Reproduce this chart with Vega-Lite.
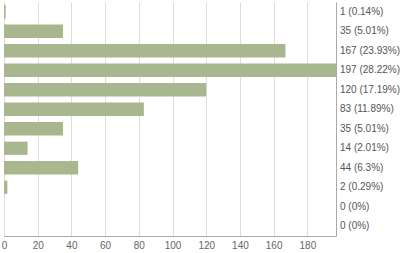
{
  "$schema": "https://vega.github.io/schema/vega-lite/v6.json",
  "autosize": "none",
  "width": 332,
  "height": 234,
  "padding": {"left": 4, "top": 2, "right": 64, "bottom": 17},
  "background": "white",
  "config": {"view": {"stroke": null}, "font": "Liberation Sans",
    "axisX": {"labelOverlap": false, "labelFlush": false, "ticks": false, "labelPadding": 4, "labelFontSize": 10, "labelColor": "#666666", "domainColor": "#aaaaaa", "gridColor": "#dddddd", "title": null}},
  "data": {"values": [
    {"row": 1, "count": 1, "label": "1 (0.14%)"},
    {"row": 2, "count": 35, "label": "35 (5.01%)"},
    {"row": 3, "count": 167, "label": "167 (23.93%)"},
    {"row": 4, "count": 197, "label": "197 (28.22%)"},
    {"row": 5, "count": 120, "label": "120 (17.19%)"},
    {"row": 6, "count": 83, "label": "83 (11.89%)"},
    {"row": 7, "count": 35, "label": "35 (5.01%)"},
    {"row": 8, "count": 14, "label": "14 (2.01%)"},
    {"row": 9, "count": 44, "label": "44 (6.3%)"},
    {"row": 10, "count": 2, "label": "2 (0.29%)"},
    {"row": 11, "count": 0, "label": "0 (0%)"},
    {"row": 12, "count": 0, "label": "0 (0%)"}
  ]},
  "encoding": {
    "y": {"field": "row", "type": "ordinal", "sort": "ascending",
      "scale": {"paddingInner": 0.32, "paddingOuter": 0.16},
      "axis": {"orient": "right", "labels": false, "ticks": false, "title": null, "domain": true, "domainColor": "#aaaaaa", "grid": false}}
  },
  "layer": [
    {
      "mark": {"type": "bar", "color": "#a8b78e"},
      "encoding": {
        "x": {"field": "count", "type": "quantitative",
          "scale": {"domain": [0, 197], "nice": false, "zero": true},
          "axis": {"values": [0, 20, 40, 60, 80, 100, 120, 140, 160, 180], "labelOverlap": false, "title": null, "grid": true}}
      }
    },
    {
      "mark": {"type": "text", "align": "left", "baseline": "middle", "dx": 4, "fontSize": 10, "color": "#555555"},
      "encoding": {
        "x": {"datum": 197, "type": "quantitative", "axis": {"values": [0, 20, 40, 60, 80, 100, 120, 140, 160, 180], "labelOverlap": false, "title": null, "grid": true}},
        "text": {"field": "label"}
      }
    }
  ]
}
